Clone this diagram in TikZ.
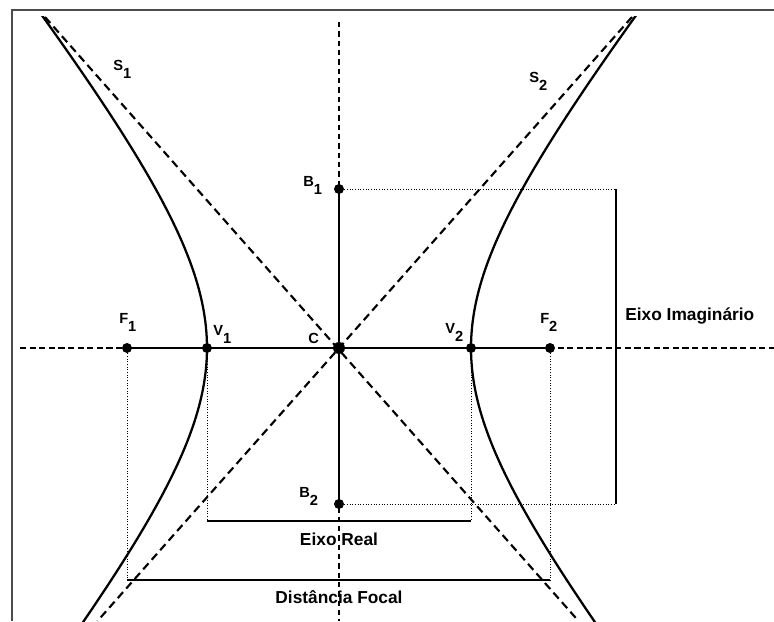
\documentclass[tikz,border=0pt]{standalone}
\usepackage{fontspec}
\setmainfont{Liberation Sans}
\newcommand{\ptname}[2]{#1\raisebox{-6pt}{#2}}
\begin{document}
\begin{tikzpicture}[x=0.75pt, y=0.75pt,
    dot/.style={circle, fill=black, inner sep=0pt, minimum size=7.5pt},
    lbl/.style={anchor=north west, inner sep=0pt, font=\fontsize{11}{13}\selectfont\bfseries},
    axislabel/.style={inner sep=0pt, font=\fontsize{13}{15}\selectfont\bfseries},
    curve/.style={line width=1.7pt},
    asym/.style={line width=1.6pt, dash pattern=on 6pt off 3.6pt},
    guide/.style={line width=0.7pt, dash pattern=on 0.7pt off 1.3pt},
    bar/.style={line width=2pt}]
    \useasboundingbox (-339,-273) rectangle (435,348);

    % Frame
    \draw[gray!60!black, line width=1.2pt] (-327,-273) -- (-327,338) -- (435,338);

    % Points
    \node[dot] (F1) at (-212,0) {};
    \node[dot] (V1) at (-132,0) {};
    \node[dot, minimum size=9pt] (C) at (0,0) {};
    \node[dot] (V2) at (132,0) {};
    \node[dot] (F2) at (211,0) {};
    \node[dot] (B1) at (0,159) {};
    \node[dot] (B2) at (0,-156) {};

    % Free ends
    \coordinate (axL) at (-319,0);
    \coordinate (axR) at (435,0);
    \coordinate (axT) at (0,326);
    \coordinate (axB) at (0,-273);
    \coordinate (S1a) at (-294,331);
    \coordinate (S1b) at (239.5,-273);
    \coordinate (S2a) at (293,331);
    \coordinate (S2b) at (-241.5,-273);
    \coordinate (IT) at (277,159);
    \coordinate (IB) at (277,-156);
    \coordinate (RL) at (-132,-173);
    \coordinate (RR) at (132,-173);
    \coordinate (FL) at (-212,-232);
    \coordinate (FR) at (211,-232);

    % Axes
    \draw[line width=2pt, dash pattern=on 4.6pt off 2.6pt] (axL) -- (axR);
    \draw[line width=1pt, dash pattern=on 4pt off 3pt] (axT) -- (axB);
    \draw[line width=2.1pt] (F1) -- (F2);
    \draw[curve] (B1) -- (B2);

    % Hyperbola and asymptotes
    \begin{scope}
        \clip (-339,-273) rectangle (435,331);
        \draw[curve] plot[domain=-1.3:1.46, samples=90, smooth] ({132*cosh(\x)}, {165*sinh(\x)});
        \draw[curve] plot[domain=-1.3:1.46, samples=90, smooth] ({-132*cosh(\x)}, {165*sinh(\x)});
        \draw[asym] (S1a) -- (S1b);
        \draw[asym] (S2a) -- (S2b);
    \end{scope}

    % Eixo Imaginario
    \draw[guide] (B1) -- (IT);
    \draw[guide] (B2) -- (IB);
    \draw[bar] (IT) -- (IB);
    \node[axislabel, anchor=base west] (lIm) at (286,28) {Eixo Imaginário};

    % Eixo Real
    \draw[guide] (V1) -- (RL);
    \draw[guide] (V2) -- (RR);
    \draw[bar] (RL) -- (RR);
    \node[axislabel, anchor=base] (lRe) at (0,-197.7) {Eixo Real};

    % Distancia Focal
    \draw[guide] (F1) -- (FL);
    \draw[guide] (F2) -- (FR);
    \draw[bar] (FL) -- (FR);
    \node[axislabel, anchor=base] (lFo) at (0,-255.3) {Distância Focal};

    % Point labels
    \node[lbl] (lS1) at (-226,288) {\ptname{S}{1}};
    \node[lbl] (lS2) at (190,276) {\ptname{S}{2}};
    \node[lbl] (lB1) at (-36,172) {\ptname{B}{1}};
    \node[lbl] (lB2) at (-40,-139) {\ptname{B}{2}};
    \node[lbl] (lF1) at (-220,35) {\ptname{F}{1}};
    \node[lbl] (lF2) at (201,35) {\ptname{F}{2}};
    \node[lbl] (lV1) at (-126,23) {\ptname{V}{1}};
    \node[lbl] (lV2) at (106,25) {\ptname{V}{2}};
    \node[lbl] (lC) at (-31,15) {C};
\end{tikzpicture}
\end{document}
